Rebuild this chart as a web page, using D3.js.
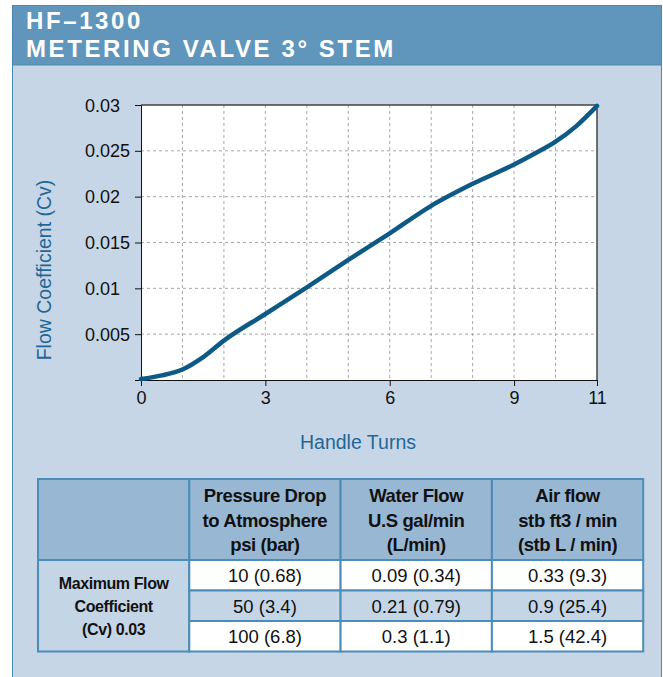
<!DOCTYPE html>
<html>
<head>
<meta charset="utf-8">
<script src="https://cdn.jsdelivr.net/npm/d3@7"></script>
<style>
  body { margin: 0; background: #fff; }
  svg { display: block; font-family: "Liberation Sans", Arial, Helvetica, sans-serif; }
</style>
</head>
<body>
<div id="chart"></div>
<script>
// Curve
const turns = [0, 0.5, 1, 1.5, 2, 3, 4, 5, 6, 7, 8, 9, 9.5, 10, 10.5, 11];
const cv = [0.0001, 0.0005, 0.00115, 0.0025, 0.0043, 0.0072, 0.0101, 0.0131, 0.016, 0.019, 0.0214, 0.0235, 0.0247, 0.026, 0.0277, 0.0299];

const xTicks = [0, 3, 6, 9, 11];
const yTicks = [0, 0.005, 0.01, 0.015, 0.02, 0.025, 0.03];

const titleLines = ["HF–1300", "METERING VALVE 3° STEM"];

// Table contents
const headLines = [
    [],
    ["Pressure Drop", "to Atmosphere", "psi (bar)"],
    ["Water Flow", "U.S gal/min", "(L/min)"],
    ["Air flow", "stb ft3 / min", "(stb L / min)"]
];
const rowLabel = ["Maximum Flow", "Coefficient", "(Cv) 0.03"];
const pressure = ["10 (0.68)", "50 (3.4)", "100 (6.8)"];
const water = ["0.09 (0.34)", "0.21 (0.79)", "0.3 (1.1)"];
const air = ["0.33 (9.3)", "0.9 (25.4)", "1.5 (42.4)"];

const W = 663, H = 677;
const svg = d3.select("#chart").append("svg")
    .attr("width", W).attr("height", H);

// panel + header band
svg.append("rect")
    .attr("x", 12.5).attr("y", 5.5).attr("width", 649).attr("height", 700)
    .attr("fill", "#c6d6e6").attr("stroke", "#4a89b4");
svg.append("rect")
    .attr("x", 12.5).attr("y", 5.5).attr("width", 649).attr("height", 59.5)
    .attr("fill", "#6096bb").attr("stroke", "#4a89b4");

// title, two lines
svg.selectAll(".title")
    .data(titleLines)
    .enter().append("text")
    .attr("x", 26)
    .attr("y", (d, i) => 28.5 + i * 28)
    .attr("fill", "#fff").attr("font-weight", "bold").attr("font-size", 24)
    .attr("letter-spacing", 2.6)
    .text(d => d);

// plot area
let margin = {top: 105, left: 141};
let width = 456, height = 275;

let xScale = d3.scaleLinear().domain([0, 11]).range([0, width]);
let yScale = d3.scaleLinear().domain([0, 0.03]).range([height, 0]);

let g = svg.append("g")
    .attr("transform", "translate(" + margin.left + "," + margin.top + ")");

g.append("rect").attr("width", width).attr("height", height).attr("fill", "#fff");

// dashed grid
g.selectAll(".vgrid")
    .data(d3.range(1, 11))
    .enter().append("line")
    .attr("x1", d => xScale(d)).attr("x2", d => xScale(d))
    .attr("y1", 0).attr("y2", height)
    .attr("stroke", "#a8a8a8").attr("stroke-dasharray", "3,3");
g.selectAll(".hgrid")
    .data(yTicks.slice(1, -1))
    .enter().append("line")
    .attr("y1", d => yScale(d)).attr("y2", d => yScale(d))
    .attr("x1", 0).attr("x2", width)
    .attr("stroke", "#a8a8a8").attr("stroke-dasharray", "3,3");

// frame top / right
g.append("path")
    .attr("d", "M0,0H" + width + "V" + height)
    .attr("fill", "none").attr("stroke", "#444").attr("stroke-width", 1.5);

let xAxis = g.append("g")
    .attr("transform", "translate(0," + height + ")")
    .call(d3.axisBottom(xScale).tickValues(xTicks).tickSize(6).tickPadding(5));
let yAxis = g.append("g")
    .call(d3.axisLeft(yScale).tickValues(yTicks).tickSize(6)
        .tickFormat(d => d === 0 ? "" : String(+d.toFixed(3))));

[xAxis, yAxis].forEach(a => {
    a.selectAll("text").attr("font-size", 18).attr("fill", "#111")
        .attr("font-family", "'Liberation Sans', Arial, sans-serif");
    a.selectAll("line, path").attr("stroke", "#111");
});
yAxis.selectAll("text").attr("text-anchor", "start").attr("x", -56).attr("dy", "0.34em");

// curve
let line = d3.line()
    .x((d, i) => xScale(turns[i]))
    .y(d => yScale(d))
    .curve(d3.curveMonotoneX);
g.append("path")
    .datum(cv)
    .attr("d", line)
    .attr("fill", "none")
    .attr("stroke", "#0e5a86")
    .attr("stroke-width", 4.5)
    .attr("stroke-linecap", "round");

// axis titles
svg.append("text")
    .attr("transform", "translate(51,270) rotate(-90)")
    .attr("text-anchor", "middle")
    .attr("font-size", 19.5).attr("fill", "#1f6796")
    .text("Flow Coefficient (Cv)");
svg.append("text")
    .attr("x", 358).attr("y", 449)
    .attr("text-anchor", "middle")
    .attr("font-size", 19.5).attr("fill", "#1f6796")
    .text("Handle Turns");

// table
let tx = 38, ty = 479, colW = 151.3, headH = 81, rowH = 30.5;
let tb = svg.append("g");
let border = "#4b8cb8";

// header cells
tb.selectAll(".hcell")
    .data(headLines)
    .enter().append("rect")
    .attr("x", (d, i) => tx + i * colW).attr("y", ty)
    .attr("width", colW).attr("height", headH)
    .attr("fill", "#98b7d2").attr("stroke", border).attr("stroke-width", 2);
headLines.forEach((lines, i) => {
    tb.selectAll(null)
        .data(lines)
        .enter().append("text")
        .attr("x", tx + i * colW + colW / 2)
        .attr("y", (d, j) => ty + 23 + j * 24.5)
        .attr("text-anchor", "middle")
        .attr("font-weight", "bold").attr("font-size", 18.5).attr("fill", "#111")
        .attr("letter-spacing", -0.4)
        .text(d => d);
});

// row label cell
tb.append("rect")
    .attr("x", tx).attr("y", ty + headH)
    .attr("width", colW).attr("height", rowH * 3)
    .attr("fill", "#c4d5e6").attr("stroke", border).attr("stroke-width", 2);
tb.selectAll(".rl")
    .data(rowLabel)
    .enter().append("text")
    .attr("x", tx + colW / 2)
    .attr("y", (d, j) => ty + headH + 29 + j * 23)
    .attr("text-anchor", "middle")
    .attr("font-weight", "bold").attr("font-size", 16).attr("fill", "#111")
    .attr("letter-spacing", -0.4)
    .text(d => d);

// data cells
[pressure, water, air].forEach((col, c) => {
    col.forEach((v, r) => {
        let x0 = tx + (c + 1) * colW, y0 = ty + headH + r * rowH;
        tb.append("rect")
            .attr("x", x0).attr("y", y0).attr("width", colW).attr("height", rowH)
            .attr("fill", r === 1 ? "#c4d5e6" : "#fff")
            .attr("stroke", border).attr("stroke-width", 2);
        tb.append("text")
            .attr("x", x0 + colW / 2).attr("y", y0 + rowH / 2 + 7)
            .attr("text-anchor", "middle")
            .attr("font-size", 18.5).attr("fill", "#111")
            .text(v);
    });
});
</script>
</body>
</html>
